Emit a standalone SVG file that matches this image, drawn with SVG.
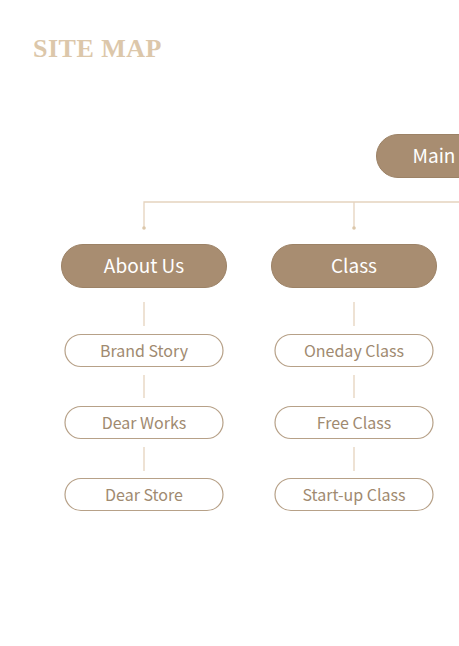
<svg xmlns="http://www.w3.org/2000/svg" width="459" height="646" viewBox="0 0 459 646">
  <style>
    .title { font-family: "Liberation Serif", "DejaVu Serif", serif; font-weight: bold; font-size: 26px; fill: #dcc7aa; letter-spacing: 0.5px; }
    .main-box { fill: #a88d71; stroke: #9c8266; stroke-width: 1; }
    .main-label { font-family: "Noto Sans CJK KR", "Noto Sans", sans-serif; font-size: 19px; fill: #ffffff; text-anchor: middle; dominant-baseline: central; }
    .sub-box { fill: #ffffff; stroke: #b7a188; stroke-width: 1.2; }
    .sub-label { font-family: "Noto Sans CJK KR", "Noto Sans", sans-serif; font-size: 16px; fill: #a08a70; text-anchor: middle; dominant-baseline: central; }
    .link { stroke: #e5d3be; stroke-width: 1.3; fill: none; }
    .dot { fill: #dcc7aa; }
  </style>
  <rect width="459" height="646" fill="#ffffff"/>
  <text class="title" x="33" y="57">SITE MAP</text>

  <g id="connectors">
    <path class="link" d="M144 228 V202 H459"/>
    <path class="link" d="M354 202 V228"/>
    <circle class="dot" cx="144" cy="228" r="1.8"/>
    <circle class="dot" cx="354" cy="228" r="1.8"/>
    <path class="link" d="M144 302 V326 M144 375 V398 M144 447 V471"/>
    <path class="link" d="M354 302 V326 M354 375 V398 M354 447 V471"/>
  </g>

  <g id="main">
    <rect class="main-box" x="376.5" y="134.5" width="120" height="43" rx="21.5"/>
    <text class="main-label" x="434" y="154.5">Main</text>
  </g>

  <g id="about-us">
    <rect class="main-box" x="61.5" y="244.5" width="165" height="43" rx="21.5"/>
    <text class="main-label" x="144" y="264.5">About Us</text>
  </g>
  <g id="class">
    <rect class="main-box" x="271.5" y="244.5" width="165" height="43" rx="21.5"/>
    <text class="main-label" x="354" y="264.5">Class</text>
  </g>

  <g id="brand-story">
    <rect class="sub-box" x="65" y="334.5" width="158" height="32" rx="16"/>
    <text class="sub-label" x="144" y="349.5">Brand Story</text>
  </g>
  <g id="dear-works">
    <rect class="sub-box" x="65" y="406.5" width="158" height="32" rx="16"/>
    <text class="sub-label" x="144" y="421.5">Dear Works</text>
  </g>
  <g id="dear-store">
    <rect class="sub-box" x="65" y="478.5" width="158" height="32" rx="16"/>
    <text class="sub-label" x="144" y="493.5">Dear Store</text>
  </g>

  <g id="oneday-class">
    <rect class="sub-box" x="275" y="334.5" width="158" height="32" rx="16"/>
    <text class="sub-label" x="354" y="349.5">Oneday Class</text>
  </g>
  <g id="free-class">
    <rect class="sub-box" x="275" y="406.5" width="158" height="32" rx="16"/>
    <text class="sub-label" x="354" y="421.5">Free Class</text>
  </g>
  <g id="start-up-class">
    <rect class="sub-box" x="275" y="478.5" width="158" height="32" rx="16"/>
    <text class="sub-label" x="354" y="493.5">Start-up Class</text>
  </g>
</svg>
